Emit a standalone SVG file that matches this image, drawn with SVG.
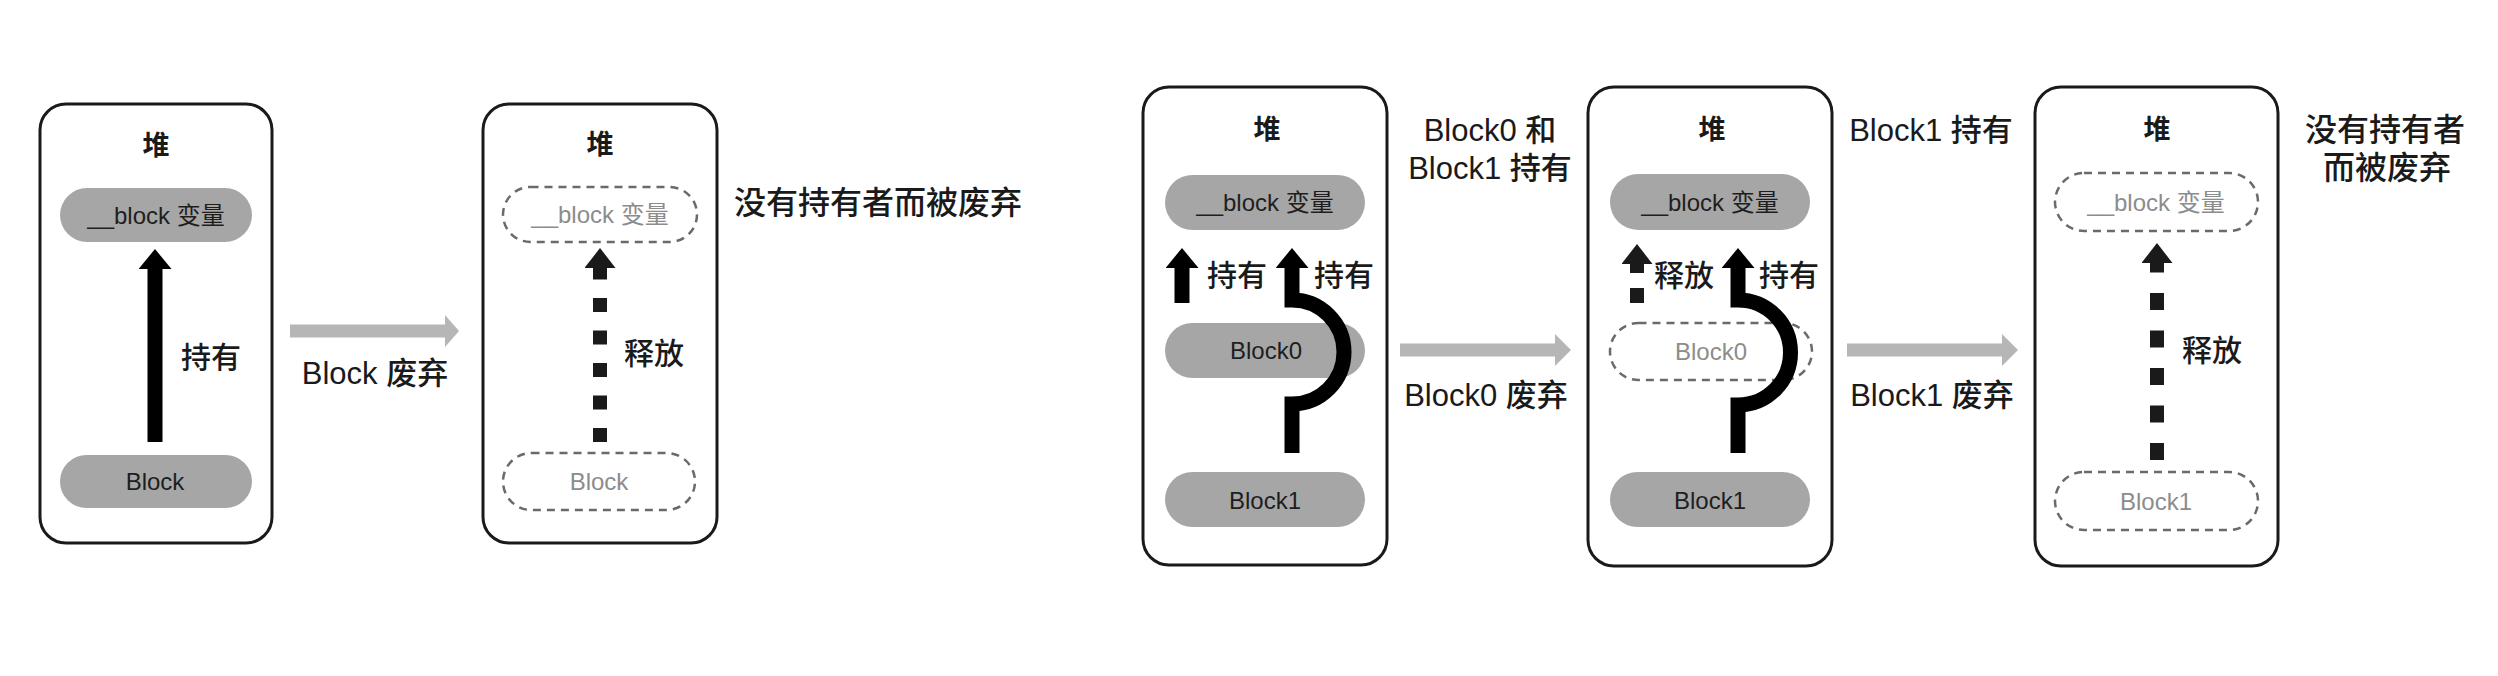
<svg xmlns="http://www.w3.org/2000/svg" width="2498" height="676" viewBox="0 0 2498 676">
<defs>
<style>
text{font-family:"Liberation Sans","Noto Sans CJK SC",sans-serif;fill:#1a1a1a;dominant-baseline:central}
.box{fill:#fff;stroke:#1a1a1a;stroke-width:3}
.pill{fill:#a6a6a6;stroke:none}
.dpill{fill:none;stroke:#6a6a6a;stroke-width:2.5;stroke-dasharray:8 6}
.heap{font-size:27px;font-weight:bold;text-anchor:middle}
.pt{font-size:24px;text-anchor:middle;fill:#1e1e1e}
.dpt{font-size:24px;text-anchor:middle;fill:#8c8c8c}
.lbl{font-size:30px;font-weight:500}
.ext{font-size:31px;font-weight:500}
.hold{fill:none;stroke:#000;stroke-width:15;marker-end:url(#head)}
.rel{fill:none;stroke:#1a1a1a;stroke-width:14;marker-end:url(#dhead)}
.trans{fill:#b6b6b6}
</style>
<marker id="head" markerUnits="userSpaceOnUse" markerWidth="20" markerHeight="33" viewBox="0 0 20 33" refX="1" refY="16.5" orient="auto"><path d="M0,0 L20,16.5 L0,33 Z" fill="#000"/></marker>
<marker id="dhead" markerUnits="userSpaceOnUse" markerWidth="20" markerHeight="31" viewBox="0 0 20 31" refX="1" refY="15.5" orient="auto"><path d="M0,0 L20,15.5 L0,31 Z" fill="#1a1a1a"/></marker>
</defs>
<rect width="2498" height="676" fill="#fff"/>

<g id="heap1">
<rect class="box" x="40" y="104" width="232" height="439" rx="26"/>
<text class="heap" x="156" y="146">堆</text>
</g>
<g id="var1">
<rect class="pill" x="60" y="188" width="192" height="54" rx="27"/>
<text class="pt" x="156" y="215">__block 变量</text>
</g>
<g id="block_a">
<rect class="pill" x="60" y="455" width="192" height="53" rx="26.5"/>
<text class="pt" x="155" y="481">Block</text>
</g>

<g id="heap2">
<rect class="box" x="483" y="104" width="234" height="439" rx="26"/>
<text class="heap" x="600" y="145">堆</text>
</g>
<g id="var2">
<rect class="dpill" x="503" y="187" width="194" height="55" rx="27.5"/>
<text class="dpt" x="600" y="214">__block 变量</text>
</g>
<g id="block_b">
<rect class="dpill" x="503" y="453" width="192" height="57" rx="28.5"/>
<text class="dpt" x="599" y="481">Block</text>
</g>

<g id="heap3">
<rect class="box" x="1143" y="87" width="244" height="478" rx="26"/>
<text class="heap" x="1267" y="130">堆</text>
</g>
<g id="var3">
<rect class="pill" x="1165" y="175" width="200" height="55" rx="27.5"/>
<text class="pt" x="1265" y="202">__block 变量</text>
</g>
<g id="block0_3">
<rect class="pill" x="1165" y="323" width="200" height="55" rx="27.5"/>
<text class="pt" x="1266" y="350">Block0</text>
</g>
<g id="block1_3">
<rect class="pill" x="1165" y="472" width="200" height="55" rx="27.5"/>
<text class="pt" x="1265" y="500">Block1</text>
</g>

<g id="heap4">
<rect class="box" x="1588" y="87" width="244" height="479" rx="26"/>
<text class="heap" x="1712" y="130">堆</text>
</g>
<g id="var4">
<rect class="pill" x="1610" y="174" width="200" height="56" rx="28"/>
<text class="pt" x="1710" y="202">__block 变量</text>
</g>
<g id="block0_4">
<rect class="dpill" x="1610" y="323" width="202" height="57" rx="28.5"/>
<text class="dpt" x="1711" y="351">Block0</text>
</g>
<g id="block1_4">
<rect class="pill" x="1610" y="472" width="200" height="55" rx="27.5"/>
<text class="pt" x="1710" y="500">Block1</text>
</g>

<g id="heap5">
<rect class="box" x="2035" y="87" width="243" height="479" rx="26"/>
<text class="heap" x="2157" y="130">堆</text>
</g>
<g id="var5">
<rect class="dpill" x="2055" y="173" width="203" height="58" rx="29"/>
<text class="dpt" x="2156" y="202">__block 变量</text>
</g>
<g id="block1_5">
<rect class="dpill" x="2055" y="472" width="203" height="58" rx="29"/>
<text class="dpt" x="2156" y="501">Block1</text>
</g>

<g id="connectors">
<path class="hold" d="M155,442 V268"/>
<path class="rel" d="M600,442 V267" stroke-dasharray="14 18.5"/>
<path class="hold" d="M1182,303 V267"/>
<path class="hold" d="M1292,453 V404 A52,52 0 0 0 1292,300 V267"/>
<path class="rel" d="M1637,303 V263" stroke-dasharray="15 15"/>
<path class="hold" d="M1738,453 V405 A52.5,52.5 0 0 0 1738,300 V267"/>
<path class="rel" d="M2157,460 V262" stroke-dasharray="17 20.5"/>
<path class="trans" d="M290,324.5 H445 V315 L459,331 L445,347 V337.5 H290 Z"/>
<path class="trans" d="M1400,343.5 H1555 V334 L1571,350 L1555,366 V356.5 H1400 Z"/>
<path class="trans" d="M1847,343.5 H2002 V334 L2018,350 L2002,366 V356.5 H1847 Z"/>
</g>

<g id="labels">
<text class="lbl" x="181" y="357">持有</text>
<text class="ext" x="375" y="373" text-anchor="middle">Block 废弃</text>
<text class="lbl" x="624" y="353">释放</text>
<text class="ext" x="734" y="203" style="font-size:32px">没有持有者而被废弃</text>
<text class="ext" x="1490" y="130" text-anchor="middle">Block0 和</text>
<text class="ext" x="1490" y="168" text-anchor="middle">Block1 持有</text>
<text class="lbl" x="1207" y="275">持有</text>
<text class="lbl" x="1314" y="275">持有</text>
<text class="ext" x="1486" y="395" text-anchor="middle">Block0 废弃</text>
<text class="lbl" x="1654" y="275">释放</text>
<text class="lbl" x="1759" y="275">持有</text>
<text class="ext" x="1931" y="130" text-anchor="middle">Block1 持有</text>
<text class="ext" x="1932" y="395" text-anchor="middle">Block1 废弃</text>
<text class="lbl" x="2182" y="350">释放</text>
<text class="ext" x="2385" y="130" text-anchor="middle" style="font-size:32px">没有持有者</text>
<text class="ext" x="2387" y="168" text-anchor="middle" style="font-size:32px">而被废弃</text>
</g>
</svg>
